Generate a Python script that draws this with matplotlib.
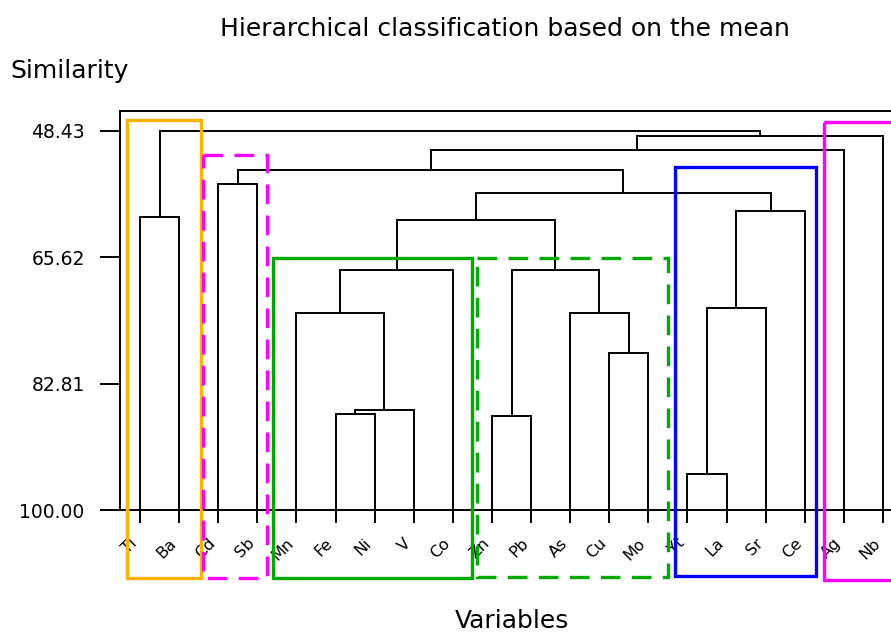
import matplotlib
matplotlib.use("Agg")
import matplotlib.pyplot as plt
from matplotlib.patches import Rectangle

plt.rcParams["font.family"] = ["DejaVu Sans"]

# leaves in plotted order
leaves = ["Ti", "Ba", "Cd", "Sb", "Mn", "Fe", "Ni", "V", "Co", "Zn",
          "Pb", "As", "Cu", "Mo", "Yt", "La", "Sr", "Ce", "Ag", "Nb"]

# merges: left child, right child, similarity level
# children < 20 are leaves, >= 20 refer to merge (index - 20)
merge_left = [14, 9, 5, 22, 12, 4, 11, 20, 25, 21, 28, 0, 27, 30, 2, 34, 35, 36, 31]
merge_right = [15, 10, 6, 7, 13, 23, 24, 16, 8, 26, 29, 1, 17, 32, 3, 33, 18, 19, 37]
merge_sim = [95.15, 87.18, 86.91, 86.36, 78.61, 73.26, 73.26, 72.50, 67.37, 67.37,
             60.57, 60.12, 59.31, 56.94, 55.72, 53.77, 51.05, 49.11, 48.43]

ytick_values = [48.43, 65.62, 82.81, 100.00]
ytick_labels = ["48.43", "65.62", "82.81", "100.00"]


def node_pos(n_leaves):
    xs = list(range(n_leaves))
    hs = [100.0] * n_leaves
    for a, b, s in zip(merge_left, merge_right, merge_sim):
        xs.append((xs[a] + xs[b]) / 2)
        hs.append(s)
    return xs, hs


fig = plt.figure(figsize=(8.91, 6.32), dpi=100)
ax = fig.add_axes([120 / 891, 122 / 632, 783 / 891, 399.3 / 632])

xs, hs = node_pos(len(leaves))
for a, b, s in zip(merge_left, merge_right, merge_sim):
    ax.plot([xs[a], xs[a], xs[b], xs[b]], [hs[a], s, s, hs[b]],
            color="black", lw=1.4, solid_joinstyle="miter", zorder=2)

ax.set_xlim(-0.51, 19.51)
ax.set_ylim(100, 45.71)

ax.set_yticks(ytick_values)
ax.set_yticklabels(ytick_labels)
ax.set_xticks(range(len(leaves)))
ax.set_xticklabels(leaves, rotation=45, ha="right", va="top", fontsize=11.5)
ax.tick_params(axis="y", direction="out", length=14.4, width=1.4, pad=11, labelsize=13.5)
ax.tick_params(axis="x", direction="out", length=9.4, width=1.4, pad=9)
for sp in ax.spines.values():
    sp.set_linewidth(1.4)

# group boxes (x in leaf units, y in similarity units)
boxes = [
    (-0.34, 1.56, 46.98, 109.2, "#FFB300", "-"),
    (1.62, 3.24, 51.73, 109.2, "#FF00FF", (0, (5.9, 3.4))),
    (3.41, 8.48, 65.70, 109.2, "#00AA00", "-"),
    (8.61, 13.49, 65.70, 109.05, "#00AA00", (0, (5.9, 3.4))),
    (13.67, 17.29, 53.32, 108.97, "#0000FF", "-"),
    (17.48, 20.4, 47.21, 109.5, "#FF00FF", "-"),
]
for x0, x1, ytop, ybot, col, ls in boxes:
    ax.add_patch(Rectangle((x0, ytop), x1 - x0, ybot - ytop, fill=False,
                           edgecolor=col, lw=2.4, linestyle=ls,
                           clip_on=False, zorder=5))

fig.text(504.5 / 891, 1 - 36 / 632, "Hierarchical classification based on the mean",
         ha="center", va="baseline", fontsize=18)
fig.text(10 / 891, 1 - 77.7 / 632, "Similarity", ha="left", va="baseline", fontsize=18)
fig.text(511.5 / 891, 1 - 628.3 / 632, "Variables", ha="center", va="baseline", fontsize=18)

fig.savefig("out.png", dpi=100)
